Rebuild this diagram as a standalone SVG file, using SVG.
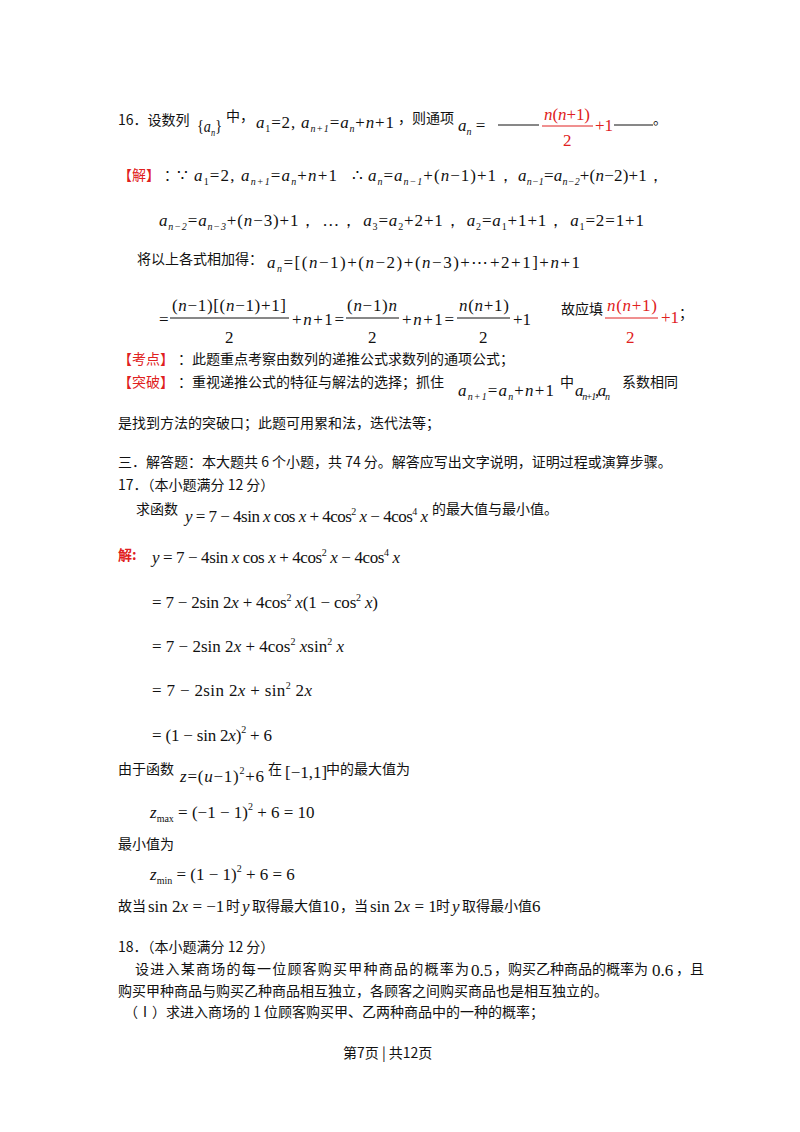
<svg xmlns="http://www.w3.org/2000/svg" width="800" height="1132" viewBox="0 0 800 1132">
<style>
text{font-family:"Liberation Serif","Noto Sans CJK SC",serif;font-size:15px;fill:#111}
.c{font-family:"Noto Sans CJK SC","Liberation Sans",sans-serif;font-size:14px}
.m{font-family:"Liberation Serif",serif;font-size:17px}
.r{fill:#e02020}
.s{font-size:10px}
line{stroke:#111;stroke-width:1}
.rl{stroke:#e02020}
</style>
<rect width="800" height="1132" fill="#fff"/>
<!-- 16 -->
<text class="c" x="118" y="125">16．设数列</text>
<text class="m" x="197" y="132" textLength="25" lengthAdjust="spacingAndGlyphs">{<tspan font-style="italic">a</tspan><tspan class="s" font-style="italic" dy="4">n</tspan><tspan dy="-4">}</tspan></text>
<text class="c" x="226" y="121">中，</text>
<text class="m" x="256" y="128" textLength="138"><tspan font-style="italic">a</tspan><tspan class="s" dy="4">1</tspan><tspan dy="-4">=2, </tspan><tspan font-style="italic">a</tspan><tspan class="s" font-style="italic" dy="4">n+1</tspan><tspan dy="-4">=</tspan><tspan font-style="italic">a</tspan><tspan class="s" font-style="italic" dy="4">n</tspan><tspan dy="-4">+</tspan><tspan font-style="italic">n</tspan>+1</text>
<text class="c" x="398" y="123">，则通项</text>
<text class="m" x="458" y="131"><tspan font-style="italic">a</tspan><tspan class="s" font-style="italic" dy="4">n</tspan><tspan dy="-4"> =</tspan></text>
<line x1="498" y1="125" x2="539" y2="125"/>
<text class="m r" x="544" y="120" textLength="46"><tspan font-style="italic">n</tspan>(<tspan font-style="italic">n</tspan>+1)</text>
<line class="rl" x1="542" y1="126" x2="593" y2="126"/>
<text class="m r" x="563" y="146">2</text>
<text class="m r" x="595" y="131">+1</text>
<line x1="614" y1="125" x2="653" y2="125"/>
<text class="c" x="653" y="124">。</text>
<!-- 解 -->
<text class="c r" x="118" y="180">【解】</text>
<text class="c" x="164" y="180">：</text>
<text class="m" x="177" y="181">∵</text>
<text class="m" x="194" y="181" textLength="143"><tspan font-style="italic">a</tspan><tspan class="s" dy="4">1</tspan><tspan dy="-4">=2, </tspan><tspan font-style="italic">a</tspan><tspan class="s" font-style="italic" dy="4">n+1</tspan><tspan dy="-4">=</tspan><tspan font-style="italic">a</tspan><tspan class="s" font-style="italic" dy="4">n</tspan><tspan dy="-4">+</tspan><tspan font-style="italic">n</tspan>+1</text>
<text class="m" x="352" y="181">∴</text>
<text class="m" x="368" y="181" textLength="146"><tspan font-style="italic">a</tspan><tspan class="s" font-style="italic" dy="4">n</tspan><tspan dy="-4">=</tspan><tspan font-style="italic">a</tspan><tspan class="s" font-style="italic" dy="4">n−1</tspan><tspan dy="-4">+(</tspan><tspan font-style="italic">n</tspan>−1)+1，</text>
<text class="m" x="518" y="181" textLength="146"><tspan font-style="italic">a</tspan><tspan class="s" font-style="italic" dy="4">n−1</tspan><tspan dy="-4">=</tspan><tspan font-style="italic">a</tspan><tspan class="s" font-style="italic" dy="4">n−2</tspan><tspan dy="-4">+(</tspan><tspan font-style="italic">n</tspan>−2)+1，</text>
<text class="m" x="159" y="226" textLength="485"><tspan font-style="italic">a</tspan><tspan class="s" font-style="italic" dy="4">n−2</tspan><tspan dy="-4">=</tspan><tspan font-style="italic">a</tspan><tspan class="s" font-style="italic" dy="4">n−3</tspan><tspan dy="-4">+(</tspan><tspan font-style="italic">n</tspan>−3)+1， …， <tspan font-style="italic">a</tspan><tspan class="s" dy="4">3</tspan><tspan dy="-4">=</tspan><tspan font-style="italic">a</tspan><tspan class="s" dy="4">2</tspan><tspan dy="-4">+2+1， </tspan><tspan font-style="italic">a</tspan><tspan class="s" dy="4">2</tspan><tspan dy="-4">=</tspan><tspan font-style="italic">a</tspan><tspan class="s" dy="4">1</tspan><tspan dy="-4">+1+1， </tspan><tspan font-style="italic">a</tspan><tspan class="s" dy="4">1</tspan><tspan dy="-4">=2=1+1</tspan></text>
<text class="c" x="137" y="264">将以上各式相加得：</text>
<text class="m" x="267" y="268" textLength="313"><tspan font-style="italic">a</tspan><tspan class="s" font-style="italic" dy="4">n</tspan><tspan dy="-4">=[(</tspan><tspan font-style="italic">n</tspan>−1)+(<tspan font-style="italic">n</tspan>−2)+(<tspan font-style="italic">n</tspan>−3)+⋯+2+1]+<tspan font-style="italic">n</tspan>+1</text>
<!-- fraction line -->
<text class="m" x="159" y="325">=</text>
<text class="m" x="172" y="311" textLength="114">(<tspan font-style="italic">n</tspan>−1)[(<tspan font-style="italic">n</tspan>−1)+1]</text>
<line x1="170" y1="318" x2="289" y2="318"/>
<text class="m" x="225" y="343">2</text>
<text class="m" x="292" y="325" textLength="52">+<tspan font-style="italic">n</tspan>+1=</text>
<text class="m" x="347" y="311" textLength="50">(<tspan font-style="italic">n</tspan>−1)<tspan font-style="italic">n</tspan></text>
<line x1="346" y1="318" x2="399" y2="318"/>
<text class="m" x="368" y="343">2</text>
<text class="m" x="402" y="325" textLength="52">+<tspan font-style="italic">n</tspan>+1=</text>
<text class="m" x="459" y="311" textLength="50"><tspan font-style="italic">n</tspan>(<tspan font-style="italic">n</tspan>+1)</text>
<line x1="457" y1="318" x2="510" y2="318"/>
<text class="m" x="479" y="343">2</text>
<text class="m" x="513" y="325">+1</text>
<text class="c" x="561" y="314">故应填</text>
<text class="m r" x="607" y="311" textLength="50"><tspan font-style="italic">n</tspan>(<tspan font-style="italic">n</tspan>+1)</text>
<line class="rl" x1="605" y1="318" x2="658" y2="318"/>
<text class="m r" x="626" y="343">2</text>
<text class="m r" x="661" y="323">+1</text>
<text class="c" x="679" y="318">；</text>
<!-- 考点 -->
<text class="c r" x="118" y="364">【考点】</text>
<text class="c" x="178" y="364">：此题重点考察由数列的递推公式求数列的通项公式；</text>
<text class="c r" x="118" y="387">【突破】</text>
<text class="c" x="178" y="387">：重视递推公式的特征与解法的选择；抓住</text>
<text class="m" x="458" y="396" textLength="96"><tspan font-style="italic">a</tspan><tspan class="s" font-style="italic" dy="4">n+1</tspan><tspan dy="-4">=</tspan><tspan font-style="italic">a</tspan><tspan class="s" font-style="italic" dy="4">n</tspan><tspan dy="-4">+</tspan><tspan font-style="italic">n</tspan>+1</text>
<text class="c" x="560" y="387">中</text>
<text class="m" x="575" y="396" textLength="35"><tspan font-style="italic">a</tspan><tspan class="s" font-style="italic" dy="4">n+1</tspan><tspan dy="-4">,</tspan><tspan font-style="italic">a</tspan><tspan class="s" font-style="italic" dy="4">n</tspan></text>
<text class="c" x="622" y="387">系数相同</text>
<text class="c" x="118" y="428">是找到方法的突破口；此题可用累和法，迭代法等；</text>
<!-- 三 -->
<text class="c" x="118" y="467">三．解答题：本大题共 6 个小题，共 74 分。解答应写出文字说明，证明过程或演算步骤。</text>
<text class="c" x="118" y="490">17．（本小题满分 12 分）</text>
<text class="c" x="136" y="514">求函数</text>
<text class="m" x="185" y="522" textLength="243"><tspan font-style="italic">y</tspan> = 7 − 4sin <tspan font-style="italic">x</tspan> cos <tspan font-style="italic">x</tspan> + 4cos<tspan class="s" dy="-7">2</tspan><tspan dy="7"> </tspan><tspan font-style="italic">x</tspan> − 4cos<tspan class="s" dy="-7">4</tspan><tspan dy="7"> </tspan><tspan font-style="italic">x</tspan></text>
<text class="c" x="432" y="514">的最大值与最小值。</text>
<!-- 解 -->
<text class="c r" x="118" y="560" font-weight="bold" font-size="17">解:</text>
<text class="m" x="152" y="563" textLength="248"><tspan font-style="italic">y</tspan> = 7 − 4sin <tspan font-style="italic">x</tspan> cos <tspan font-style="italic">x</tspan> + 4cos<tspan class="s" dy="-7">2</tspan><tspan dy="7"> </tspan><tspan font-style="italic">x</tspan> − 4cos<tspan class="s" dy="-7">4</tspan><tspan dy="7"> </tspan><tspan font-style="italic">x</tspan></text>
<text class="m" x="152" y="608" textLength="226">= 7 − 2sin 2<tspan font-style="italic">x</tspan> + 4cos<tspan class="s" dy="-7">2</tspan><tspan dy="7"> </tspan><tspan font-style="italic">x</tspan>(1 − cos<tspan class="s" dy="-7">2</tspan><tspan dy="7"> </tspan><tspan font-style="italic">x</tspan>)</text>
<text class="m" x="152" y="652" textLength="192">= 7 − 2sin 2<tspan font-style="italic">x</tspan> + 4cos<tspan class="s" dy="-7">2</tspan><tspan dy="7"> </tspan><tspan font-style="italic">x</tspan>sin<tspan class="s" dy="-7">2</tspan><tspan dy="7"> </tspan><tspan font-style="italic">x</tspan></text>
<text class="m" x="152" y="696" textLength="160">= 7 − 2sin 2<tspan font-style="italic">x</tspan> + sin<tspan class="s" dy="-7">2</tspan><tspan dy="7"> 2</tspan><tspan font-style="italic">x</tspan></text>
<text class="m" x="152" y="741" textLength="120">= (1 − sin 2<tspan font-style="italic">x</tspan>)<tspan class="s" dy="-8">2</tspan><tspan dy="8"> + 6</tspan></text>
<text class="c" x="118" y="774">由于函数</text>
<text class="m" x="180" y="782" textLength="84"><tspan font-style="italic">z</tspan>=(<tspan font-style="italic">u</tspan>−1)<tspan class="s" dy="-8">2</tspan><tspan dy="8">+6</tspan></text>
<text class="c" x="268" y="774">在</text>
<text class="m" x="285" y="778">[−1,1]</text>
<text class="c" x="326" y="774">中的最大值为</text>
<text class="m" x="150" y="818"><tspan font-style="italic">z</tspan><tspan class="s" dy="4">max</tspan><tspan dy="-4"> = (−1 − 1)</tspan><tspan class="s" dy="-8">2</tspan><tspan dy="8"> + 6 = 10</tspan></text>
<text class="c" x="118" y="849">最小值为</text>
<text class="m" x="150" y="880"><tspan font-style="italic">z</tspan><tspan class="s" dy="4">min</tspan><tspan dy="-4"> = (1 − 1)</tspan><tspan class="s" dy="-8">2</tspan><tspan dy="8"> + 6 = 6</tspan></text>
<text class="c" x="118" y="911">故当</text>
<text class="m" x="148" y="912">sin 2<tspan font-style="italic">x</tspan> = −1</text>
<text class="c" x="226" y="911">时</text>
<text class="m" x="242" y="912" font-style="italic">y</text>
<text class="c" x="252" y="911">取得最大值</text>
<text class="m" x="322" y="912">10</text>
<text class="c" x="340" y="911">，当</text>
<text class="m" x="370" y="912">sin 2<tspan font-style="italic">x</tspan> = 1</text>
<text class="c" x="436" y="911">时</text>
<text class="m" x="452" y="912" font-style="italic">y</text>
<text class="c" x="462" y="911">取得最小值</text>
<text class="m" x="532" y="912">6</text>
<!-- 18 -->
<text class="c" x="118" y="952">18．（本小题满分 12 分）</text>
<text class="c" x="135" y="974" textLength="334">设进入某商场的每一位顾客购买甲种商品的概率为</text>
<text class="m" x="471" y="976">0.5</text>
<text class="c" x="494" y="974">，购买乙种商品的概率为</text>
<text class="m" x="652" y="976">0.6</text>
<text class="c" x="676" y="974">，且</text>
<text class="c" x="118" y="996">购买甲种商品与购买乙种商品相互独立，各顾客之间购买商品也是相互独立的。</text>
<text class="c" x="124" y="1017">（Ⅰ）求进入商场的 1 位顾客购买甲、乙两种商品中的一种的概率；</text>
<text class="c" x="343" y="1058" font-size="13">第7页  | 共12页</text>
</svg>
